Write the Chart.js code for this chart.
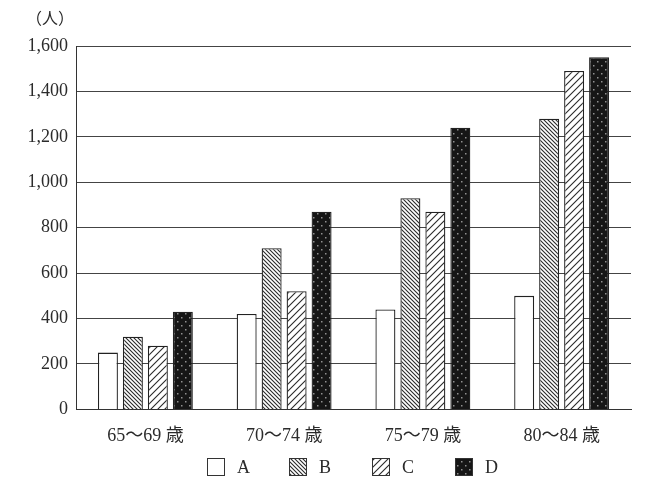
<!DOCTYPE html>
<html><head><meta charset="utf-8">
<script src="https://cdn.jsdelivr.net/npm/chart.js@4.4.1/dist/chart.umd.min.js"></script>
<style>html,body{margin:0;padding:0;background:#fff}#wrap{width:671px;height:491px;position:relative}</style>
</head><body><div id="wrap"><canvas id="c" width="671" height="491"></canvas></div>
<script>
const categories = ["65～69 歳", "70～74 歳", "75～79 歳", "80～84 歳"];
const seriesNames = ["A", "B", "C", "D"];
const valuesA = [250, 420, 440, 500];
const valuesB = [320, 710, 930, 1280];
const valuesC = [280, 520, 870, 1490];
const valuesD = [430, 870, 1240, 1550];
const yTicks = [0, 200, 400, 600, 800, 1000, 1200, 1400, 1600];

const FONT = "'Liberation Serif', 'Noto Sans CJK JP', serif";
const INK = '#2b2b2b';

function makeHatch(dir, s, lw, fg, bg) {
  const cv = document.createElement('canvas');
  cv.width = s; cv.height = s;
  const g = cv.getContext('2d');
  g.fillStyle = bg; g.fillRect(0, 0, s, s);
  g.strokeStyle = fg; g.lineWidth = lw;
  g.beginPath();
  if (dir === '/') {
    g.moveTo(-1, s + 1); g.lineTo(s + 1, -1);
    g.moveTo(-1, 1); g.lineTo(1, -1);
    g.moveTo(s - 1, s + 1); g.lineTo(s + 1, s - 1);
  } else {
    g.moveTo(-1, -1); g.lineTo(s + 1, s + 1);
    g.moveTo(s - 1, -1); g.lineTo(s + 1, 1);
    g.moveTo(-1, s - 1); g.lineTo(1, s + 1);
  }
  g.stroke();
  return g.createPattern(cv, 'repeat');
}
function makeDots() {
  const s = 8;
  const cv = document.createElement('canvas');
  cv.width = s; cv.height = s;
  const g = cv.getContext('2d');
  g.fillStyle = '#161616'; g.fillRect(0, 0, s, s);
  g.fillStyle = '#909090';
  g.fillRect(1, 1, 1.5, 1.5);
  g.fillRect(5, 5, 1.5, 1.5);
  return g.createPattern(cv, 'repeat');
}
const fills = ['#ffffff', makeHatch('\\', 4, 1.1, '#2a2a2a', '#fff'), makeHatch('/', 7, 1.1, '#2a2a2a', '#fff'), makeDots()];
const allValues = [valuesA, valuesB, valuesC, valuesD];

const unitPlugin = {
  id: 'unit',
  afterDraw(chart) {
    const g = chart.ctx;
    g.save();
    g.font = "16px 'Noto Sans CJK JP', serif";
    g.fillStyle = INK;
    g.textAlign = 'center';
    g.textBaseline = 'middle';
    g.fillText('（人）', 50, 18);
    g.restore();
  }
};

// legend drawn from the datasets (fills and labels come from chart data)
const legendPlugin = {
  id: 'customLegend',
  afterDraw(chart) {
    const g = chart.ctx;
    const xs = [207, 289, 372, 455];
    const top = 458, size = 18;
    g.save();
    g.font = "18px " + FONT;
    g.textBaseline = 'middle';
    g.textAlign = 'left';
    chart.data.datasets.forEach((ds, i) => {
      g.fillStyle = ds.backgroundColor;
      g.fillRect(xs[i], top, size, size);
      g.strokeStyle = '#333';
      g.lineWidth = 1;
      g.strokeRect(xs[i] + 0.5, top + 0.5, size - 1, size - 1);
      g.fillStyle = INK;
      g.fillText(ds.label, xs[i] + size + 12, top + size / 2 + 1);
    });
    g.restore();
  }
};

new Chart(document.getElementById('c'), {
  type: 'bar',
  data: {
    labels: categories,
    datasets: seriesNames.map((n, i) => ({
      label: n,
      data: allValues[i],
      backgroundColor: fills[i],
      borderColor: '#222',
      borderWidth: 1.3,
      categoryPercentage: 0.72,
      barPercentage: 0.8
    }))
  },
  options: {
    responsive: false,
    animation: false,
    devicePixelRatio: 1,
    layout: { padding: { top: 46, right: 40, left: 0, bottom: 36 } },
    plugins: {
      tooltip: { enabled: false },
      legend: { display: false }
    },
    scales: {
      x: {
        grid: { display: false },
        border: { color: '#333', width: 1 },
        ticks: { color: INK, font: { family: FONT, size: 18 }, padding: 8 }
      },
      y: {
        min: 0, max: 1600,
        afterBuildTicks(s) { s.ticks = yTicks.map(v => ({ value: v })); },
        afterFit(s) { s.width = 76; },
        grid: { color: '#444', lineWidth: 1, tickLength: 0 },
        border: { color: '#333', width: 1 },
        ticks: {
          color: INK, padding: 8,
          font: { family: FONT, size: 18 },
          callback: v => v.toLocaleString('en-US')
        }
      }
    }
  },
  plugins: [unitPlugin, legendPlugin]
});
</script></body></html>
